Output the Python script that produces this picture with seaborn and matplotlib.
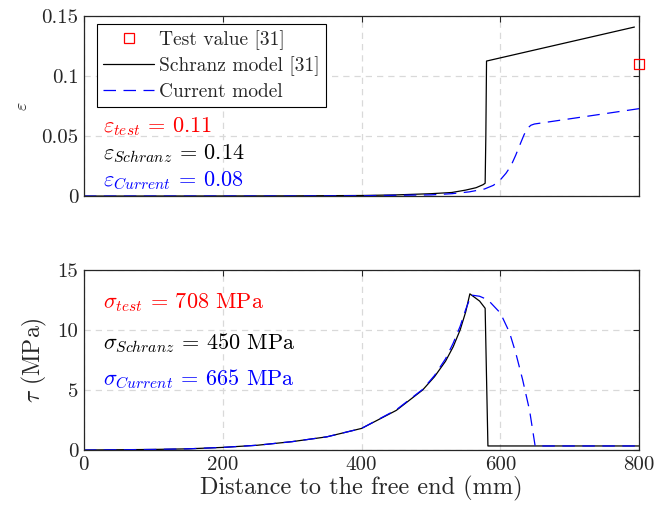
import numpy as np
import pandas as pd
import matplotlib
matplotlib.use("Agg")
import matplotlib.pyplot as plt
import seaborn as sns
from matplotlib.lines import Line2D

# ---------------- data ----------------
x_schranz_eps = [0, 200, 300, 400, 450, 500, 530, 550, 565, 575, 578, 579, 580, 793]
y_schranz_eps = [0, 0.0001, 0.0002, 0.0005, 0.001, 0.002, 0.003, 0.005, 0.007, 0.0095, 0.0107, 0.05, 0.1124, 0.1407]

x_current_eps = [0, 300, 400, 500, 530, 555, 577, 590, 601, 608, 615, 622, 629, 634, 639, 644, 649, 800]
y_current_eps = [0, 0.0001, 0.0003, 0.001, 0.002, 0.0035, 0.0059, 0.009, 0.0143, 0.019, 0.025, 0.034, 0.044, 0.051, 0.0565, 0.059, 0.060, 0.0728]

x_test = [800]
y_test = [0.11]

x_schranz_tau = [0, 100, 150, 200, 250, 300, 350, 400, 450, 488, 505, 521, 532, 542, 550, 556, 570, 578, 580, 582, 800]
y_schranz_tau = [0, 0.05, 0.1, 0.22, 0.4, 0.7, 1.1, 1.8, 3.3, 5.0, 6.1, 7.4, 8.6, 10.0, 11.5, 13.0, 12.4, 11.8, 6.0, 0.34, 0.34]

x_current_tau = [0, 100, 150, 200, 250, 300, 350, 400, 450, 488, 505, 521, 532, 542, 550, 558, 570, 582, 600, 613, 622, 632, 642, 650, 800]
y_current_tau = [0, 0.05, 0.1, 0.22, 0.4, 0.7, 1.1, 1.8, 3.35, 5.05, 6.2, 7.6, 8.9, 10.3, 11.7, 12.9, 12.8, 12.5, 11.4, 9.8, 8.1, 5.85, 3.3, 0.34, 0.34]

xticks = [0, 200, 400, 600, 800]
yticks_eps = [0, 0.05, 0.1, 0.15]
yticklabels_eps = ["0", "0.05", "0.1", "0.15"]
yticks_tau = [0, 5, 10, 15]

legend_labels = ["Test value [31]", "Schranz model [31]", "Current model"]
eps_texts = [r"$\varepsilon_{test}$ = 0.11", r"$\varepsilon_{Schranz}$ = 0.14", r"$\varepsilon_{Current}$ = 0.08"]
sig_texts = [r"$\sigma_{test}$ = 708 MPa", r"$\sigma_{Schranz}$ = 450 MPa", r"$\sigma_{Current}$ = 665 MPa"]
text_colors = ["#ff0000", "#000000", "#0000ff"]

# ---------------- style ----------------
sns.set_style("white")
plt.rcParams["font.family"] = ["cmr10", "DejaVu Serif"]
plt.rcParams["mathtext.fontset"] = "cm"
plt.rcParams["axes.formatter.use_mathtext"] = True
plt.rcParams["axes.unicode_minus"] = False

fig = plt.figure(figsize=(6.55, 5.12), dpi=100)
ax1 = fig.add_axes([0.128, 0.617, 0.848, 0.352])
ax2 = fig.add_axes([0.128, 0.121, 0.848, 0.352])

df_s_eps = pd.DataFrame({"x": x_schranz_eps, "y": y_schranz_eps})
df_c_eps = pd.DataFrame({"x": x_current_eps, "y": y_current_eps})
df_s_tau = pd.DataFrame({"x": x_schranz_tau, "y": y_schranz_tau})
df_c_tau = pd.DataFrame({"x": x_current_tau, "y": y_current_tau})
df_test = pd.DataFrame({"x": x_test, "y": y_test})

dash = (10, 6)

# top
sns.lineplot(data=df_s_eps, x="x", y="y", ax=ax1, color="black", lw=0.9, sort=False, estimator=None)
sns.lineplot(data=df_c_eps, x="x", y="y", ax=ax1, color="#0000ff", lw=0.9, sort=False, estimator=None)
ax1.lines[-1].set_dashes(dash)
sns.scatterplot(data=df_test, x="x", y="y", ax=ax1, marker="s", s=55, facecolor="none",
                edgecolor="#ff0000", linewidth=0.9, clip_on=False, zorder=5)

# bottom
sns.lineplot(data=df_s_tau, x="x", y="y", ax=ax2, color="black", lw=0.9, sort=False, estimator=None)
sns.lineplot(data=df_c_tau, x="x", y="y", ax=ax2, color="#0000ff", lw=0.9, sort=False, estimator=None)
ax2.lines[-1].set_dashes(dash)

for ax, yt in ((ax1, yticks_eps), (ax2, yticks_tau)):
    ax.set_xlim(0, 800)
    ax.set_ylim(yt[0], yt[-1])
    ax.set_xticks(xticks)
    ax.set_yticks(yt)
    ax.grid(True, color="#d9d9d9", linestyle=(0, (5, 4)), linewidth=0.9)
    ax.set_axisbelow(True)
    ax.tick_params(direction="in", length=4, width=0.8, color="#262626",
                   top=True, right=True, labelsize=15, pad=4)
    for sp in ax.spines.values():
        sp.set_color("#262626")
        sp.set_linewidth(0.9)
    ax.set_xlabel("")
    ax.set_ylabel("")

ax1.set_yticklabels(yticklabels_eps)
ax1.set_xticklabels([])
ax2.set_xticklabels([str(v) for v in xticks])
ax2.set_yticklabels([str(v) for v in yticks_tau])

ax1.set_ylabel(r"$\varepsilon$", fontsize=13, labelpad=8)
ax2.set_ylabel(r"$\tau$ (MPa)", fontsize=17, labelpad=6)
ax2.set_xlabel("Distance to the free end (mm)", fontsize=17.5, labelpad=2)

# legend
handles = [
    Line2D([], [], marker="s", markersize=7, markerfacecolor="none", markeredgecolor="#ff0000",
           markeredgewidth=0.9, linestyle="none"),
    Line2D([], [], color="black", lw=0.9),
    Line2D([], [], color="#0000ff", lw=0.9, dashes=dash),
]
leg = ax1.legend(handles, legend_labels, loc="upper left", bbox_to_anchor=(0.023, 0.955),
                 fontsize=14, frameon=True, fancybox=False, framealpha=1,
                 edgecolor="black", handlelength=2.65, handletextpad=0.25,
                 borderpad=0.32, labelspacing=0.33, borderaxespad=0)
leg.get_frame().set_linewidth(0.8)

# annotations
for t, yv, c in zip(eps_texts, [0.0575, 0.035, 0.0125], text_colors):
    ax1.text(27, yv, t, color=c, fontsize=16, ha="left", va="center")
for t, yv, c in zip(sig_texts, [12.3, 8.9, 5.85], text_colors):
    ax2.text(27, yv, t, color=c, fontsize=16, ha="left", va="center")

fig.savefig("out.png", dpi=100)
